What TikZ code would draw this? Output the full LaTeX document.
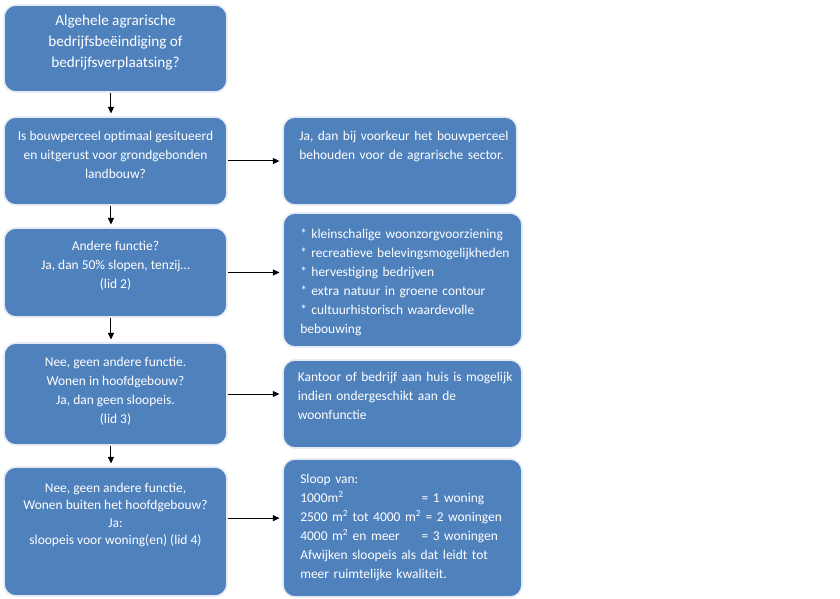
\documentclass[tikz,border=0pt]{standalone}
\usepackage{fontspec}
\setmainfont{Carlito}
\usetikzlibrary{arrows.meta}
\definecolor{boxblue}{HTML}{4F81BD}
\definecolor{boxrim}{HTML}{E4EBF5}

\begin{document}
\begin{tikzpicture}[x=0.75pt, y=-0.75pt,
    box/.style={draw=boxrim, line width=1.2pt, fill=boxblue, rounded corners=9pt},
    ctext/.style={text=white, align=center, inner sep=0pt, font=\fontsize{10.1}{14.25}\selectfont},
    ltext/.style={text=white, align=left, text width=165pt, anchor=west, inner sep=0pt, font=\fontsize{10.1}{14.25}\selectfont},
    arr/.style={-{Triangle[length=5pt,width=4.5pt]}, line width=0.75pt, shorten >=2pt}]
    \useasboundingbox (0,0) rectangle (840,599);

    % left column: questions
    \node[box, minimum width=167.25pt, minimum height=65.25pt] (b1) at (115.5, 48.5) {};
    \node[box, minimum width=167.25pt, minimum height=66pt] (b2) at (115.5, 161) {};
    \node[box, minimum width=167.25pt, minimum height=66.75pt] (b3) at (115.5, 272.5) {};
    \node[box, minimum width=167.25pt, minimum height=76.5pt] (b4) at (115.5, 394) {};
    \node[box, minimum width=167.25pt, minimum height=96.75pt] (b5) at (115.5, 531.5) {};

    % right column: answers
    \node[box, minimum width=175.5pt, minimum height=66pt] (r1) at (400, 161) {};
    \node[box, minimum width=179.25pt, minimum height=100.5pt] (r2) at (402.5, 280) {};
    \node[box, minimum width=179.25pt, minimum height=66pt] (r3) at (402.5, 404) {};
    \node[box, minimum width=179.25pt, minimum height=103.5pt] (r4) at (402.5, 528) {};

    % texts
    \node[ctext, font=\fontsize{11.4}{15.4}\selectfont] (b1t) at (115.5, 42.5) {Algehele agrarische\\bedrijfsbeëindiging of\\bedrijfsverplaatsing?};
    \node[ctext] (b2t) at (115.5, 154.5) {Is bouwperceel optimaal gesitueerd\\en uitgerust voor grondgebonden\\landbouw?};
    \node[ctext] (b3t) at (115.5, 265.5) {Andere functie?\\Ja, dan 50\% slopen, tenzij…\\(lid 2)};
    \node[ctext] (b4t) at (115.5, 391) {Nee, geen andere functie.\\Wonen in hoofdgebouw?\\Ja, dan geen sloopeis.\\(lid 3)};
    \node[ctext, font=\fontsize{10.1}{13}\selectfont] (b5t) at (115.5, 515) {Nee, geen andere functie,\\Wonen buiten het hoofdgebouw?\\Ja:\\sloopeis voor woning(en) (lid 4)};

    \node[ltext] (r1t) at (299, 146.5) {Ja, dan bij voorkeur het bouwperceel\\behouden voor de agrarische sector.};
    \node[ltext] (r2t) at (300, 282) {* kleinschalige woonzorgvoorziening\\{}* recreatieve belevingsmogelijkheden\\{}* hervestiging bedrijven\\{}* extra natuur in groene contour\\{}* cultuurhistorisch waardevolle\\bebouwing};
    \node[ltext] (r3t) at (297.5, 396) {Kantoor of bedrijf aan huis is mogelijk\\indien ondergeschikt aan de\\woonfunctie};
    \node[ltext] (r4t) at (300, 527) {Sloop van:\\\makebox[91pt][l]{1000m\textsuperscript{2}}= 1 woning\\\makebox[94pt][l]{2500 m\textsuperscript{2} tot 4000 m\textsuperscript{2}}= 2 woningen\\\makebox[91pt][l]{4000 m\textsuperscript{2} en meer}= 3 woningen\\Afwijken sloopeis als dat leidt tot\\meer ruimtelijke kwaliteit.};

    % arrows
    \draw[arr] ([xshift=-3.4pt]b1.south) -- ([xshift=-3.4pt]b2.north);
    \draw[arr] ([xshift=-3.4pt]b2.south) -- ([xshift=-3.4pt]b3.north);
    \draw[arr] ([xshift=-3.4pt]b3.south) -- ([xshift=-3.4pt]b4.north);
    \draw[arr] ([xshift=-3.4pt]b4.south) -- ([xshift=-3.4pt]b5.north);

    \coordinate (b5a) at ([yshift=10pt]b5.east);
    \draw[arr] (b2.east) -- (r1.west);
    \draw[arr] (b3.east) -- (b3.east -| r2.west);
    \draw[arr] (b4.east) -- (b4.east -| r3.west);
    \draw[arr] (b5a) -- (b5a -| r4.west);
\end{tikzpicture}
\end{document}
